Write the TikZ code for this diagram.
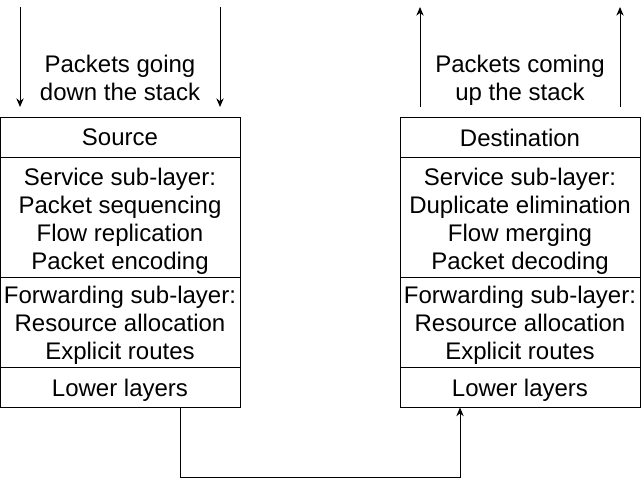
\documentclass[tikz,border=0pt]{standalone}
\usepackage{fontspec}
\setmainfont{Liberation Sans}
\usetikzlibrary{arrows.meta}
\begin{document}
\begin{tikzpicture}[x=0.75pt,y=-0.75pt,
  cell/.style={draw,line width=0.75pt,minimum width=240*0.75pt,inner sep=0pt},
  lbl/.style={font=\fontsize{18}{21}\selectfont,align=center,inner sep=0pt,anchor=north},
  arr/.style={line width=0.75pt,-{Stealth[length=6.5pt,width=5.5pt]}},
  wire/.style={line width=0.75pt}]
\useasboundingbox (0,0) rectangle (641,486);
% left stack
\node[cell,minimum height=40*0.75pt] (src) at (120,137) {};
\node[cell,minimum height=120*0.75pt] (svc1) at (120,217) {};
\node[cell,minimum height=90*0.75pt] (fwd1) at (120,322) {};
\node[cell,minimum height=40*0.75pt] (low1) at (120,387) {};
\node[lbl] (srct) at (120,128.8) {Source};
\node[lbl] (svc1t) at (120,167.8) {Service sub-layer:\\Packet sequencing\\Flow replication\\Packet encoding};
\node[lbl] (fwd1t) at (120,286.2) {Forwarding sub-layer:\\Resource allocation\\Explicit routes};
\node[lbl] (low1t) at (120,379.2) {Lower layers};
% right stack
\node[cell,minimum height=40*0.75pt] (dst) at (520,137) {};
\node[cell,minimum height=120*0.75pt] (svc2) at (520,217) {};
\node[cell,minimum height=90*0.75pt] (fwd2) at (520,322) {};
\node[cell,minimum height=40*0.75pt] (low2) at (520,387) {};
\node[lbl] (dstt) at (520,128.8) {Destination};
\node[lbl] (svc2t) at (520,167.8) {Service sub-layer:\\Duplicate elimination\\Flow merging\\Packet decoding};
\node[lbl] (fwd2t) at (520,286.2) {Forwarding sub-layer:\\Resource allocation\\Explicit routes};
\node[lbl] (low2t) at (520,379.2) {Lower layers};
% labels
\node[lbl] (down) at (120,55) {Packets going\\down the stack};
\node[lbl] (up) at (520,55) {Packets coming\\up the stack};
% top arrows
\coordinate (a1) at (20,7);  \coordinate (a1e) at (20,107);
\coordinate (a2) at (220,7); \coordinate (a2e) at (220,107);
\coordinate (b1) at (420,107); \coordinate (b1e) at (420,7);
\coordinate (b2) at (620,107); \coordinate (b2e) at (620,7);
\draw[arr] (a1) -- (a1e);
\draw[arr] (a2) -- (a2e);
\draw[arr] (b1) -- (b1e);
\draw[arr] (b2) -- (b2e);
% bottom connector
\coordinate (bl) at (180,477);
\coordinate (br) at (460,477);
\draw[arr] (bl |- low1.south) -- (bl) -- (br) -- (br |- low2.south);
\end{tikzpicture}
\end{document}
